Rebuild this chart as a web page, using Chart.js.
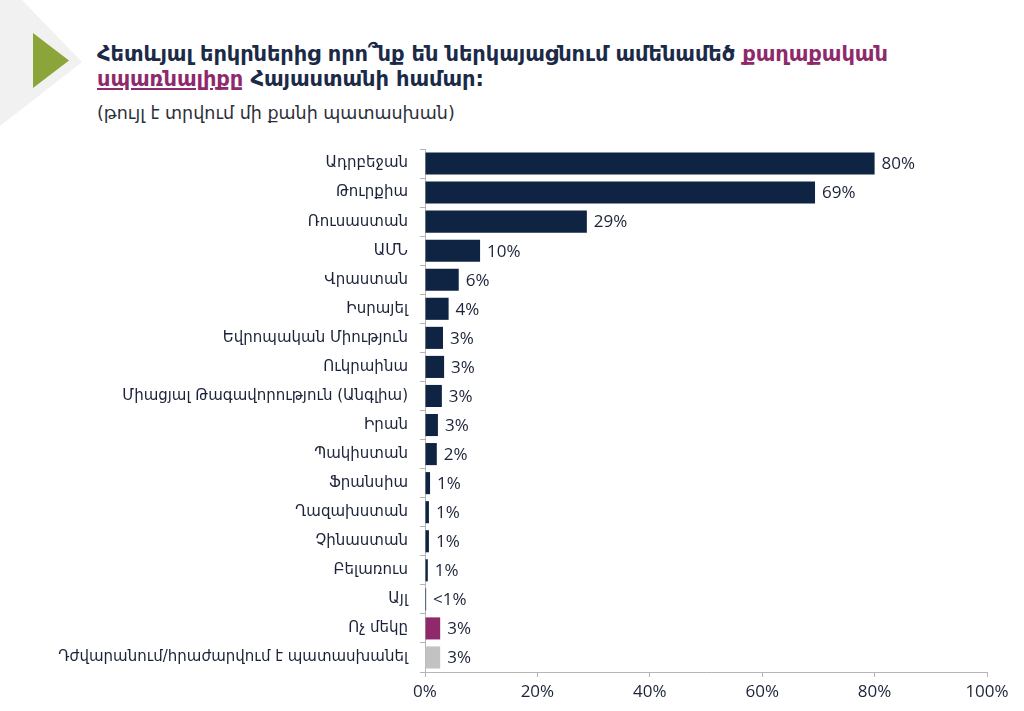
<!DOCTYPE html>
<html>
<head>
<meta charset="utf-8">
<script src="https://cdn.jsdelivr.net/npm/chart.js@4.4.1/dist/chart.umd.min.js"></script>
<style>
  html, body { margin: 0; padding: 0; background: #fff; }
  body { width: 1024px; height: 711px; position: relative; overflow: hidden; font-family: "DejaVu Sans", sans-serif; }
  .bgtri { position: absolute; left: 0; top: 0; width: 90px; height: 130px; background: #f1f1f1; clip-path: polygon(0 0, 22px 0, 82px 62px, 0 126px); }
  .tri { position: absolute; left: 33px; top: 33px; width: 36px; height: 55px; background: #8ba53a; clip-path: polygon(0 0, 100% 50%, 0 100%); }
  .title { position: absolute; left: 97px; top: 42px; font-size: 21px; line-height: 25px; font-weight: bold; color: #1b2a47; letter-spacing: -0.1px; }
  .title .hl { color: #8e2a6c; }
  .title u { text-decoration-thickness: 1.5px; text-underline-offset: 2px; }
  .sub { position: absolute; left: 97px; top: 103px; font-size: 17.5px; color: #2b2f3a; }
  #wrap { position: absolute; left: 0; top: 128px; width: 1024px; height: 583px; }
</style>
</head>
<body>
<div class="bgtri"></div>
<div class="tri"></div>
<div class="title">Հետևյալ երկրներից որո՞նք են ներկայացնում ամենամեծ <span class="hl">քաղաքական</span><br><span class="hl"><u>սպառնալիքը</u></span> Հայաստանի համար:</div>
<div class="sub">(թույլ է տրվում մի քանի պատասխան)</div>
<div id="wrap"><canvas id="chart"></canvas></div>
<script>
  const countries = [
    "Ադրբեջան", "Թուրքիա", "Ռուսաստան", "ԱՄՆ", "Վրաստան", "Իսրայել",
    "Եվրոպական Միություն", "Ուկրաինա", "Միացյալ Թագավորություն (Անգլիա)",
    "Իրան", "Պակիստան", "Ֆրանսիա", "Ղազախստան", "Չինաստան", "Բելառուս",
    "Այլ", "Ոչ մեկը", "Դժվարանում/հրաժարվում է պատասխանել"
  ];
  const shares = [80, 69.4, 28.8, 9.8, 6.0, 4.2, 3.2, 3.4, 3.0, 2.3, 2.1, 0.9, 0.7, 0.7, 0.5, 0.2, 2.7, 2.7];
  const shareLabels = ["80%", "69%", "29%", "10%", "6%", "4%", "3%", "3%", "3%", "3%", "2%", "1%", "1%", "1%", "1%", "<1%", "3%", "3%"];
  const barColors = countries.map((c, i) => i === 16 ? "#8e2a6c" : i === 17 ? "#c2c2c2" : "#0f2443");
  const xTicks = [0, 20, 40, 60, 80, 100];

  const NUM_FONT = "'Open Sans', 'DejaVu Sans', sans-serif";

  // value labels to the right of each bar
  const valueLabels = {
    id: "valueLabels",
    afterDatasetsDraw(chart) {
      const ctx = chart.ctx;
      const meta = chart.getDatasetMeta(0);
      ctx.save();
      ctx.font = "17px " + NUM_FONT;
      ctx.fillStyle = "#1b2338";
      ctx.textBaseline = "middle";
      ctx.textAlign = "left";
      meta.data.forEach((bar, i) => {
        ctx.fillText(shareLabels[i], bar.x + 7, bar.y + 1);
      });
      ctx.restore();
    }
  };

  new Chart(document.getElementById("chart").getContext("2d"), {
    type: "bar",
    data: {
      labels: countries,
      datasets: [{
        data: shares,
        backgroundColor: barColors,
        categoryPercentage: 1,
        barPercentage: 0.76
      }]
    },
    options: {
      indexAxis: "y",
      responsive: true,
      maintainAspectRatio: false,
      animation: false,
      layout: { padding: { top: 8, right: 37, bottom: 0, left: 0 } },
      plugins: { legend: { display: false }, tooltip: { enabled: false } },
      scales: {
        x: {
          min: 0,
          max: 100,
          afterBuildTicks: (s) => { s.ticks = xTicks.map((v) => ({ value: v })); },
          afterFit: (s) => { s.height = 39; },
          border: { display: true, color: "#b5b5b5", width: 1 },
          grid: { drawOnChartArea: false, drawTicks: true, tickLength: 5, color: "#b5b5b5" },
          ticks: {
            callback: (v) => v + "%",
            color: "#1b2338",
            font: { size: 17, family: NUM_FONT },
            padding: 5
          }
        },
        y: {
          afterFit: (s) => { s.width = 425; },
          border: { display: true, color: "#b5b5b5", width: 1 },
          grid: { drawOnChartArea: false, drawTicks: true, tickLength: 5, color: "#b5b5b5", offset: true },
          ticks: {
            color: "#1b2338",
            font: { size: 15, family: "'DejaVu Sans', sans-serif" },
            padding: 12,
            autoSkip: false
          }
        }
      }
    },
    plugins: [valueLabels]
  });
</script>
</body>
</html>
